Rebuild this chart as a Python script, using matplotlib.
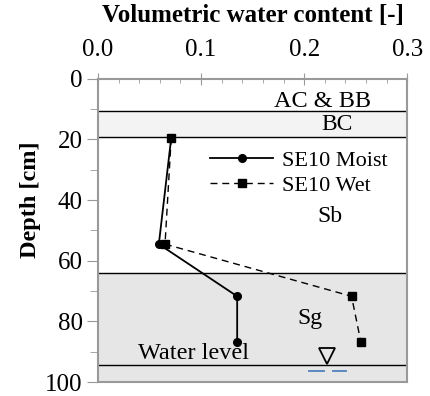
import matplotlib.pyplot as plt
from matplotlib.ticker import MultipleLocator

plt.rcParams['font.family'] = ['Liberation Serif', 'DejaVu Serif']

# soil layer boundaries [cm]
layer_tops = [0, 10.5, 19.2, 64.0, 94.5]
layer_bottoms = [10.5, 19.2, 64.0, 94.5, 100]
layer_colors = ['white', '#f3f3f3', 'white', '#e6e6e6', '#e6e6e6']
layer_names = ['AC & BB', 'BC', 'Sb', 'Sg']

# measured profiles
depth = [19.5, 54.5, 71.7, 86.7]
moist = [0.071, 0.059, 0.135, 0.135]
wet = [0.071, 0.065, 0.246, 0.255]
water_level = 94.5

fig = plt.figure(figsize=(4.3, 3.96), dpi=100)
ax = fig.add_axes([0.228, 0.035, 0.719, 0.766])

for top, bot, c in zip(layer_tops, layer_bottoms, layer_colors):
    ax.axhspan(top, bot, color=c, zorder=0)
for b in layer_tops[1:]:
    ax.axhline(b, color='black', lw=1.0, zorder=1)

ax.plot(moist, depth, '-', color='black', lw=1.3, marker='o', ms=5.5,
        label='SE10 Moist', zorder=3)
ax.plot(wet, depth, '--', color='black', lw=1.0, marker='s', ms=6,
        dashes=(5, 3.5), label='SE10 Wet', zorder=3)

ax.text(0.265, 7.5, 'AC & BB', fontsize=17.5, ha='right', va='center')
ax.text(0.232, 15.0, 'BC', fontsize=17, ha='center', va='center')
ax.text(0.225, 45.5, 'Sb', fontsize=17, ha='center', va='center')
ax.text(0.206, 79.0, 'Sg', fontsize=17, ha='center', va='center')
ax.text(0.039, 90.7, 'Water level', fontsize=17.5, ha='left', va='center')

# water table symbol
ax.plot([0.222], [91.3], marker='v', ms=11, mfc='none', mec='black', mew=1.3,
        zorder=3)
ax.plot([0.205, 0.219], [96.4, 96.4], color='#4f81bd', lw=1.3)
ax.plot([0.228, 0.241], [96.4, 96.4], color='#4f81bd', lw=1.3)

ax.set_xlim(0, 0.3)
ax.set_ylim(100, 0)
ax.xaxis.tick_top()
ax.xaxis.set_label_position('top')
ax.xaxis.set_major_locator(MultipleLocator(0.1))
ax.xaxis.set_minor_locator(MultipleLocator(0.02))
ax.yaxis.set_major_locator(MultipleLocator(20))
ax.yaxis.set_minor_locator(MultipleLocator(10))
ax.xaxis.set_major_formatter(plt.FuncFormatter(lambda v, p: f'{v:.1f}'))
ax.tick_params(axis='x', which='major', direction='inout', length=8,
               color='#999999', labelsize=18, pad=9)
ax.tick_params(axis='x', which='minor', direction='in', length=3,
               color='#999999')
ax.tick_params(axis='y', which='major', direction='out', length=8,
               color='#999999', labelsize=18, pad=3)
ax.tick_params(axis='y', which='minor', direction='out', length=6,
               color='#999999')
for s in ax.spines.values():
    s.set_color('#999999')
    s.set_linewidth(1.5)

ax.set_xlabel('Volumetric water content [-]', fontsize=18, fontweight='bold',
              labelpad=12)
ax.set_ylabel('Depth [cm]', fontsize=17.5, fontweight='bold')
ax.yaxis.set_label_coords(-0.185, 0.6)

ax.legend(loc='upper right', bbox_to_anchor=(1.0, 0.83), frameon=False,
          fontsize=16, handlelength=2.8, handletextpad=0.4, labelspacing=0.2)

fig.savefig('out.png', dpi=100)
